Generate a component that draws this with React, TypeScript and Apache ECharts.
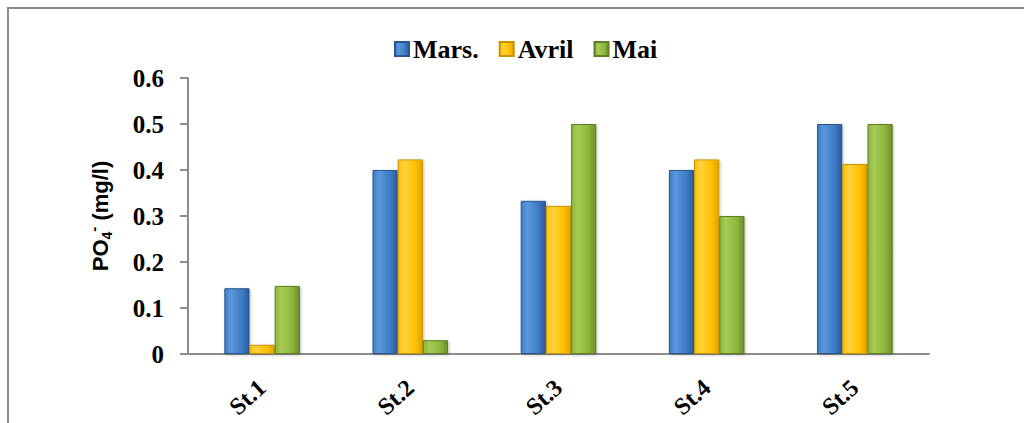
import React, { useEffect, useRef } from "react";
import * as echarts from "echarts";

const categories = ["St.1", "St.2", "St.3", "St.4", "St.5"];
const seriesNames = ["Mars.", "Avril", "Mai"];
const mars = [0.143, 0.4, 0.333, 0.4, 0.5];
const avril = [0.02, 0.423, 0.322, 0.423, 0.413];
const mai = [0.148, 0.03, 0.5, 0.3, 0.5];
const yTicks = [0, 0.1, 0.2, 0.3, 0.4, 0.5, 0.6];

const SERIF = "'Liberation Serif', 'Times New Roman', Times, serif";
const SANS = "'Liberation Sans', Arial, Helvetica, sans-serif";

const palettes = [
  { light: "#5b97db", mid: "#3e7cc6", dark: "#2b5b99", edge: "#2a5590" },
  { light: "#ffd23f", mid: "#ffc000", dark: "#e0a400", edge: "#c99300" },
  { light: "#a6cc55", mid: "#8db73d", dark: "#6b8e2a", edge: "#5f7f24" },
];

const barFill = (p: (typeof palettes)[number]) =>
  new echarts.graphic.LinearGradient(0, 0, 1, 0, [
    { offset: 0, color: p.mid },
    { offset: 0.25, color: p.light },
    { offset: 0.7, color: p.mid },
    { offset: 1, color: p.dark },
  ]);

export default function App() {
  const ref = useRef<HTMLDivElement>(null);

  useEffect(() => {
    if (!ref.current) return;
    const chart = echarts.init(ref.current, undefined, { renderer: "svg" });
    const data = [mars, avril, mai];

    chart.setOption({
      animation: false,
      backgroundColor: "#ffffff",
      graphic: [
        {
          type: "polyline",
          shape: { points: [[8, 430], [8, 8], [1030, 8]] },
          style: { stroke: "#8c8c8c", lineWidth: 2, fill: "none" },
          silent: true,
        },
      ],
      legend: {
        left: 389,
        top: 31,
        itemWidth: 14,
        itemHeight: 14,
        itemGap: 20,
        icon: "rect",
        textStyle: {
          fontFamily: SERIF,
          fontWeight: "bold",
          fontSize: 26,
          color: "#000",
          padding: [0, 0, 0, -1],
        },
        data: seriesNames,
      },
      grid: { left: 188, right: 95, top: 78, bottom: 69, containLabel: false },
      xAxis: {
        type: "category",
        data: categories,
        axisLine: { lineStyle: { color: "#8c8c8c", width: 2 } },
        axisTick: { show: false },
        axisLabel: {
          rotate: 42,
          margin: 30,
          fontFamily: SERIF,
          fontWeight: "bold",
          fontSize: 24,
          color: "#000",
        },
      },
      yAxis: {
        type: "value",
        min: yTicks[0],
        max: yTicks[yTicks.length - 1],
        interval: 0.1,
        splitLine: { show: false },
        axisLine: { show: true, lineStyle: { color: "#8c8c8c", width: 2 } },
        axisTick: { show: true, inside: false, length: 8, lineStyle: { color: "#8c8c8c", width: 2 } },
        axisLabel: {
          margin: 24,
          fontFamily: SERIF,
          fontWeight: "bold",
          fontSize: 25,
          color: "#000",
          formatter: (v: number) => (v === 0 ? "0" : v.toFixed(1)),
        },
        name: "{a|PO}{sub|4}{sup|-}{a| (mg/l)}",
        nameLocation: "middle",
        nameRotate: 90,
        nameGap: 74,
        nameTextStyle: {
          rich: {
            a: { fontFamily: SANS, fontWeight: "bold", fontSize: 22, color: "#000", lineHeight: 28, verticalAlign: "middle" },
            sub: { fontFamily: SANS, fontWeight: "bold", fontSize: 14, color: "#000", lineHeight: 28, verticalAlign: "bottom" },
            sup: { fontFamily: SANS, fontWeight: "bold", fontSize: 15, color: "#000", lineHeight: 28, verticalAlign: "top" },
          },
        },
      },
      series: seriesNames.map((name, i) => ({
        name,
        type: "bar",
        data: data[i],
        barGap: "0%",
        barCategoryGap: "49%",
        itemStyle: {
          color: barFill(palettes[i]),
          borderColor: palettes[i].edge,
          borderWidth: 1,
          shadowColor: "rgba(0,0,0,0.25)",
          shadowBlur: 3,
          shadowOffsetX: 1,
          shadowOffsetY: 1,
        },
      })),
      color: palettes.map((p) => p.mid),
    });

    return () => chart.dispose();
  }, []);

  return (
    <div
      ref={ref}
      style={{ position: "fixed", left: 0, top: 0, width: 1024, height: 423 }}
    />
  );
}
